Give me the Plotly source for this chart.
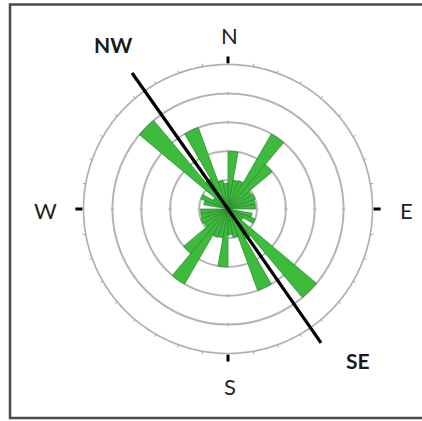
import plotly.graph_objects as go

# 10-degree bins (bearing of bin centre, clockwise from North)
bin_centers = [5, 15, 25, 35, 45, 55, 65, 75, 85, 95, 105, 115, 125, 135, 145, 155, 165, 175,
               185, 195, 205, 215, 225, 235, 245, 255, 265, 275, 285, 295, 305, 315, 325, 335, 345, 355]
frequency = [2.0, 1.0, 1.05, 3.0, 2.0, 0.95, 1.0, 0.95, 0.95, 0.15, 0.85, 1.0, 0.6, 4.0, 1.2, 3.0, 1.0, 0.9,
             2.0, 1.0, 1.05, 3.0, 2.0, 0.95, 1.0, 0.95, 0.95, 0.15, 0.85, 1.0, 0.6, 4.0, 1.2, 3.0, 1.0, 0.9]
ring_values = [1, 2, 3, 4]
outer_value = 5
outer_tick_angles = list(range(0, 360, 10))
cardinal_angles = [0, 90, 180, 270]
cardinal_labels = ["N", "E", "S", "W"]
trend_theta = [324.8, 0, 145.2]
trend_r = [5.76, 0, 5.64]
trend_labels = ["NW", "SE"]

W, H = 422, 421
cx, cy, R5 = 228, 209, 144.5
rmax = 5.85
R = R5 * rmax / outer_value

fig = go.Figure()

fig.add_trace(go.Barpolar(
    theta=bin_centers, r=frequency, width=[10] * len(bin_centers),
    marker=dict(color="#3dbb3d", line=dict(color="#2b852b", width=0.7)),
    opacity=1, hoverinfo="skip", showlegend=False))

# outer ring
ring_theta = list(range(0, 361, 1))
fig.add_trace(go.Scatterpolar(theta=ring_theta, r=[outer_value] * len(ring_theta), mode="lines",
                              line=dict(color="#b0b0b0", width=1.7), hoverinfo="skip", showlegend=False))

# small grey ticks every 10 degrees on the outer ring
ot, orr = [], []
for a in outer_tick_angles:
    ot += [a, a, None]
    orr += [outer_value, outer_value + 0.1, None]
fig.add_trace(go.Scatterpolar(theta=ot, r=orr, mode="lines",
                              line=dict(color="#a8a8a8", width=1), hoverinfo="skip", showlegend=False))

# small ticks on the inner rings at cardinal directions
tt, tr = [], []
for v in ring_values:
    for a in cardinal_angles:
        tt += [a, a, None]
        tr += [v - 0.06, v + 0.06, None]
fig.add_trace(go.Scatterpolar(theta=tt, r=tr, mode="lines",
                              line=dict(color="#aaaaaa", width=1), hoverinfo="skip", showlegend=False))

# black cardinal ticks outside the outer ring
ct, cr = [], []
for a in cardinal_angles:
    ct += [a, a, None]
    cr += [outer_value + 0.04, outer_value + 0.28, None]
fig.add_trace(go.Scatterpolar(theta=ct, r=cr, mode="lines",
                              line=dict(color="black", width=3), hoverinfo="skip", showlegend=False))

# trend line NW-SE
fig.add_trace(go.Scatterpolar(theta=trend_theta, r=trend_r, mode="lines",
                              line=dict(color="black", width=3.2), hoverinfo="skip", showlegend=False))

fig.update_layout(
    width=W, height=H, margin=dict(l=0, r=0, t=0, b=0),
    paper_bgcolor="white", plot_bgcolor="white", showlegend=False,
    polar=dict(
        domain=dict(x=[(cx - R) / W, (cx + R) / W], y=[(H - cy - R) / H, (H - cy + R) / H]),
        bgcolor="rgba(0,0,0,0)",
        radialaxis=dict(range=[0, rmax], tickvals=ring_values, showticklabels=False,
                        ticks="", showline=False, gridcolor="#b4b4b4", gridwidth=1.5),
        angularaxis=dict(direction="clockwise", rotation=90, ticks="", showticklabels=False,
                         showgrid=False, showline=False),
    ),
)

label_pos = {"N": (229.5, 36), "E": (406, 210), "S": (230, 386), "W": (45, 210)}
for lab in cardinal_labels:
    x, y = label_pos[lab]
    fig.add_annotation(x=x / W, y=1 - y / H, xref="paper", yref="paper", text=lab,
                       showarrow=False, xanchor="center", yanchor="middle",
                       font=dict(family="Lato", size=22, color="#222222"))

trend_pos = {"NW": (112.5, 44), "SE": (357.5, 360)}
for lab in trend_labels:
    x, y = trend_pos[lab]
    fig.add_annotation(x=x / W, y=1 - y / H, xref="paper", yref="paper", text="<b>" + lab + "</b>",
                       showarrow=False, xanchor="center", yanchor="middle",
                       font=dict(family="Lato", size=21, color="#1a1a1a"))

# frame (cropped on the right in the reference)
fig.add_shape(type="rect", xref="paper", yref="paper", x0=10 / W, x1=1.02, y0=1 - 418 / H, y1=1 - 4.5 / H,
              line=dict(color="#4a4a4a", width=2.5), fillcolor="rgba(0,0,0,0)")

fig.write_html("out.html")
